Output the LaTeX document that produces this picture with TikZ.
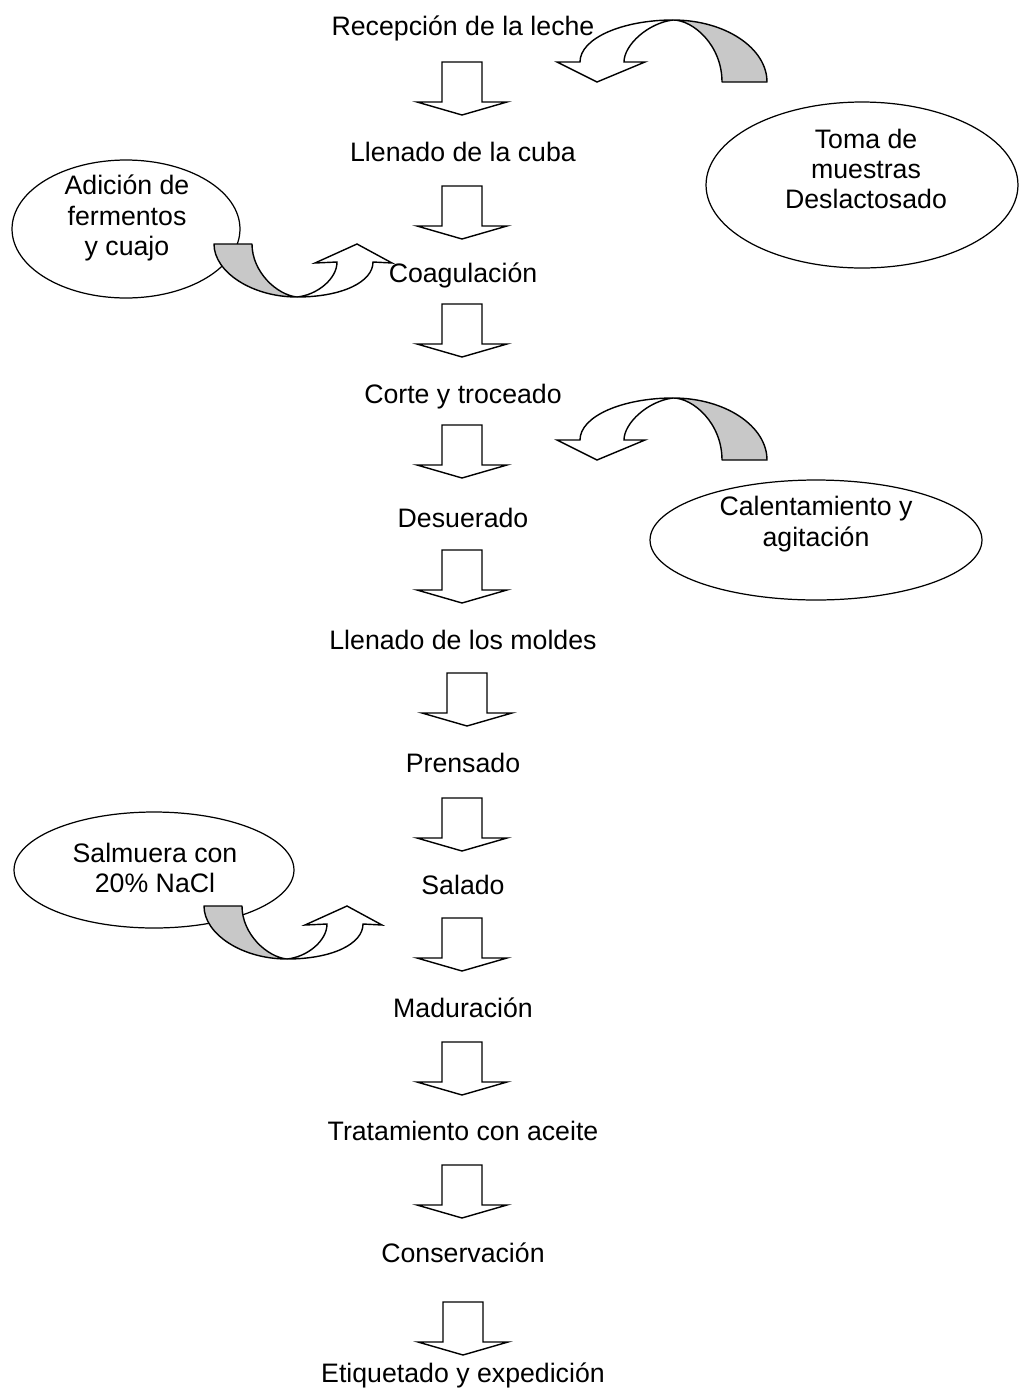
\documentclass[tikz,border=0pt]{standalone}
\usepackage{fontspec}
\setmainfont{Liberation Sans}
\usetikzlibrary{shapes.geometric}
\definecolor{tailgray}{RGB}{200,200,200}
\tikzset{
  lbl/.style={inner sep=0pt, font=\fontsize{15.2}{17.2}\selectfont, align=center},
  oval/.style={draw, ellipse, line width=0.7pt, inner sep=0pt},
  blockdown/.pic={
    \draw[line width=0.8pt, fill=white, line join=miter]
      (-20,0) -- (20,0) -- (20,40) -- (45,40) -- (0,53) -- (-45,40) -- (-20,40) -- cycle;
  },
  curvdown/.pic={
    \draw[line width=0.8pt, fill=tailgray, line join=round]
      (94,62) .. controls (94,28) and (52,0) .. (0,0)
      .. controls (20,0) and (49,25) .. (49,62) -- cycle;
    \draw[line width=0.8pt, fill=white, line join=miter]
      (0,0) .. controls (-50,0) and (-93,18) .. (-93,42)
      -- (-116,42) -- (-76,62) -- (-28,42) -- (-49,42)
      .. controls (-49,25) and (-25,3) .. (0,0) -- cycle;
  },
  curvup/.pic={
    \draw[line width=0.8pt, fill=tailgray, line join=round]
      (-83,-53) -- (-45,-53) .. controls (-45,-25) and (-20,-2) .. (0,0)
      .. controls (-45,0) and (-83,-25) .. (-83,-53) -- cycle;
    \draw[line width=0.8pt, fill=white, line join=miter]
      (0,0) .. controls (45,0) and (76,-15) .. (76,-35)
      -- (95,-34) -- (60,-53) -- (18,-34) -- (40,-35)
      .. controls (40,-18) and (20,-2) .. (0,0) -- cycle;
  }
}
\begin{document}
\begin{tikzpicture}[x=0.02cm, y=-0.02cm]
\useasboundingbox (0,0) rectangle (1018,1390);
% main steps
\node[lbl] (s1) at (463,28) {Recepción de la leche};
\node[lbl] (s2) at (463,152) {Llenado de la cuba};
\node[lbl] (s3) at (463,275) {Coagulación};
\node[lbl] (s4) at (463,397) {Corte y troceado};
\node[lbl] (s5) at (463,518) {Desuerado};
\node[lbl] (s6) at (463,640) {Llenado de los moldes};
\node[lbl] (s7) at (463,763) {Prensado};
\node[lbl] (s8) at (463,885) {Salado};
\node[lbl] (s9) at (463,1008) {Maduración};
\node[lbl] (s10) at (463,1131) {Tratamiento con aceite};
\node[lbl] (s11) at (463,1253) {Conservación};
\node[lbl] (s12) at (463,1375) {Etiquetado y expedición};
% block arrows
\pic at (462,62) {blockdown};
\pic at (462,186) {blockdown};
\pic at (462,304) {blockdown};
\pic at (462,425) {blockdown};
\pic at (462,550) {blockdown};
\pic at (467,673) {blockdown};
\pic at (462,798) {blockdown};
\pic at (462,918) {blockdown};
\pic at (462,1042) {blockdown};
\pic at (462,1165) {blockdown};
\pic at (463,1302) {blockdown};
% side ellipses
\node[oval, minimum width=6.24cm, minimum height=3.32cm] (e1) at (862,185) {};
\node[lbl] (t1) at (866,169) {Toma de\\muestras\\Deslactosado};
\node[oval, minimum width=4.56cm, minimum height=2.76cm] (e2) at (126,229) {};
\node[lbl] (t2) at (127,218) {Adición de\\fermentos\\y cuajo};
\node[oval, minimum width=6.64cm, minimum height=2.4cm] (e3) at (816,540) {};
\node[lbl] (t3) at (816,524) {Calentamiento y\\agitación};
\node[oval, minimum width=5.6cm, minimum height=2.32cm] (e4) at (154,870) {};
\node[lbl] (t4) at (155,868) {Salmuera con\\20\% NaCl};
% curved arrows
\pic at (673,20) {curvdown};
\pic at (673,398) {curvdown};
\pic at (297,297) {curvup};
\pic at (287,959) {curvup};
\end{tikzpicture}
\end{document}
